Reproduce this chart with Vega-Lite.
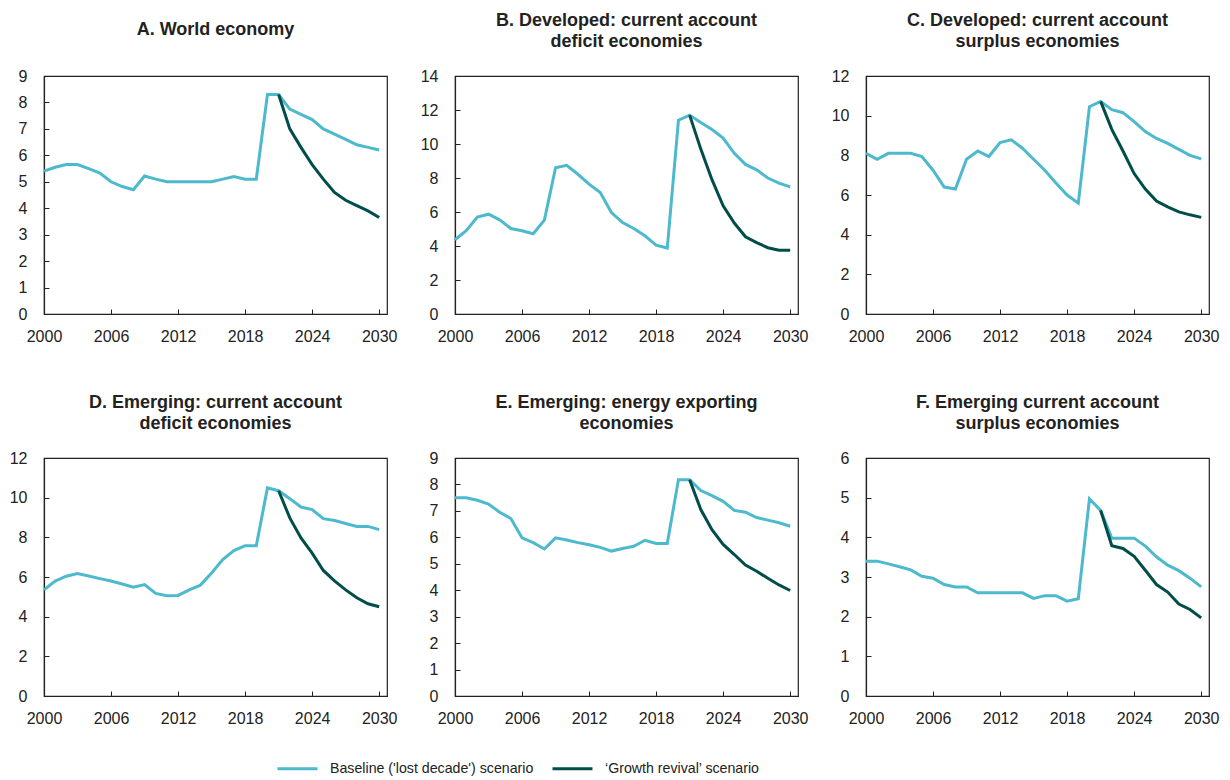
{
  "$schema": "https://vega.github.io/schema/vega-lite/v6.json",
  "background": "white",
  "padding": {"left": 8, "top": 11, "right": 5, "bottom": 5},
  "config": {
    "font": "Liberation Sans",
    "view": {"stroke": "#222", "strokeWidth": 1.2},
    "axis": {
      "grid": false,
      "domainColor": "#222",
      "domainWidth": 1.2,
      "tickColor": "#222",
      "tickSize": -5,
      "labelFont": "Liberation Sans",
      "labelFontSize": 16,
      "labelColor": "#222",
      "title": null
    },
    "axisX": {"labelPadding": 19, "labelFlush": false},
    "axisY": {"labelPadding": 22},
    "title": {
      "font": "Liberation Sans",
      "fontSize": 18,
      "fontWeight": "bold",
      "color": "#222",
      "lineHeight": 21,
      "baseline": "alphabetic",
      "anchor": "middle"
    },
    "legend": {
      "orient": "none",
      "legendX": 232,
      "legendY": 671,
      "direction": "horizontal",
      "title": null,
      "symbolType": "stroke",
      "symbolSize": 1600,
      "symbolStrokeWidth": 3,
      "labelFont": "Liberation Sans",
      "labelFontSize": 14.2,
      "labelColor": "#222",
      "labelOffset": 11,
      "columnPadding": 12,
      "labelLimit": 400
    }
  },
  "data": {
    "values": [
      {"p": "A", "year": 2000, "base": 5.4}, {"p": "A", "year": 2001, "base": 5.55}, {"p": "A", "year": 2002, "base": 5.65}, {"p": "A", "year": 2003, "base": 5.65},
      {"p": "A", "year": 2004, "base": 5.5}, {"p": "A", "year": 2005, "base": 5.33}, {"p": "A", "year": 2006, "base": 5.0}, {"p": "A", "year": 2007, "base": 4.82},
      {"p": "A", "year": 2008, "base": 4.7}, {"p": "A", "year": 2009, "base": 5.22}, {"p": "A", "year": 2010, "base": 5.1}, {"p": "A", "year": 2011, "base": 5.0},
      {"p": "A", "year": 2012, "base": 5.0}, {"p": "A", "year": 2013, "base": 5.0}, {"p": "A", "year": 2014, "base": 5.0}, {"p": "A", "year": 2015, "base": 5.0},
      {"p": "A", "year": 2016, "base": 5.1}, {"p": "A", "year": 2017, "base": 5.2}, {"p": "A", "year": 2018, "base": 5.1}, {"p": "A", "year": 2019, "base": 5.1},
      {"p": "A", "year": 2020, "base": 8.3}, {"p": "A", "year": 2021, "base": 8.3, "rev": 8.3}, {"p": "A", "year": 2022, "base": 7.75, "rev": 7.0},
      {"p": "A", "year": 2023, "base": 7.55, "rev": 6.3}, {"p": "A", "year": 2024, "base": 7.35, "rev": 5.65}, {"p": "A", "year": 2025, "base": 7.0, "rev": 5.1},
      {"p": "A", "year": 2026, "base": 6.8, "rev": 4.6}, {"p": "A", "year": 2027, "base": 6.6, "rev": 4.3}, {"p": "A", "year": 2028, "base": 6.4, "rev": 4.1},
      {"p": "A", "year": 2029, "base": 6.3, "rev": 3.9}, {"p": "A", "year": 2030, "base": 6.2, "rev": 3.65},

      {"p": "B", "year": 2000, "base": 4.37}, {"p": "B", "year": 2001, "base": 4.9}, {"p": "B", "year": 2002, "base": 5.7}, {"p": "B", "year": 2003, "base": 5.87},
      {"p": "B", "year": 2004, "base": 5.54}, {"p": "B", "year": 2005, "base": 5.03}, {"p": "B", "year": 2006, "base": 4.9}, {"p": "B", "year": 2007, "base": 4.72},
      {"p": "B", "year": 2008, "base": 5.52}, {"p": "B", "year": 2009, "base": 8.6}, {"p": "B", "year": 2010, "base": 8.75}, {"p": "B", "year": 2011, "base": 8.22},
      {"p": "B", "year": 2012, "base": 7.64}, {"p": "B", "year": 2013, "base": 7.15}, {"p": "B", "year": 2014, "base": 5.97}, {"p": "B", "year": 2015, "base": 5.38},
      {"p": "B", "year": 2016, "base": 5.03}, {"p": "B", "year": 2017, "base": 4.6}, {"p": "B", "year": 2018, "base": 4.05}, {"p": "B", "year": 2019, "base": 3.88},
      {"p": "B", "year": 2020, "base": 11.4}, {"p": "B", "year": 2021, "base": 11.7, "rev": 11.7}, {"p": "B", "year": 2022, "base": 11.26, "rev": 9.7},
      {"p": "B", "year": 2023, "base": 10.85, "rev": 7.9}, {"p": "B", "year": 2024, "base": 10.35, "rev": 6.36}, {"p": "B", "year": 2025, "base": 9.45, "rev": 5.35},
      {"p": "B", "year": 2026, "base": 8.8, "rev": 4.54}, {"p": "B", "year": 2027, "base": 8.48, "rev": 4.2}, {"p": "B", "year": 2028, "base": 8.0, "rev": 3.9},
      {"p": "B", "year": 2029, "base": 7.7, "rev": 3.75}, {"p": "B", "year": 2030, "base": 7.48, "rev": 3.75},

      {"p": "C", "year": 2000, "base": 8.1}, {"p": "C", "year": 2001, "base": 7.8}, {"p": "C", "year": 2002, "base": 8.1}, {"p": "C", "year": 2003, "base": 8.1},
      {"p": "C", "year": 2004, "base": 8.1}, {"p": "C", "year": 2005, "base": 7.94}, {"p": "C", "year": 2006, "base": 7.25}, {"p": "C", "year": 2007, "base": 6.4},
      {"p": "C", "year": 2008, "base": 6.3}, {"p": "C", "year": 2009, "base": 7.8}, {"p": "C", "year": 2010, "base": 8.22}, {"p": "C", "year": 2011, "base": 7.94},
      {"p": "C", "year": 2012, "base": 8.64}, {"p": "C", "year": 2013, "base": 8.78}, {"p": "C", "year": 2014, "base": 8.36}, {"p": "C", "year": 2015, "base": 7.8},
      {"p": "C", "year": 2016, "base": 7.25}, {"p": "C", "year": 2017, "base": 6.6}, {"p": "C", "year": 2018, "base": 6.0}, {"p": "C", "year": 2019, "base": 5.59},
      {"p": "C", "year": 2020, "base": 10.45}, {"p": "C", "year": 2021, "base": 10.72, "rev": 10.72}, {"p": "C", "year": 2022, "base": 10.3, "rev": 9.31},
      {"p": "C", "year": 2023, "base": 10.15, "rev": 8.22}, {"p": "C", "year": 2024, "base": 9.7, "rev": 7.08}, {"p": "C", "year": 2025, "base": 9.2, "rev": 6.3},
      {"p": "C", "year": 2026, "base": 8.85, "rev": 5.7}, {"p": "C", "year": 2027, "base": 8.6, "rev": 5.4}, {"p": "C", "year": 2028, "base": 8.3, "rev": 5.15},
      {"p": "C", "year": 2029, "base": 8.0, "rev": 5.0}, {"p": "C", "year": 2030, "base": 7.82, "rev": 4.87},

      {"p": "D", "year": 2000, "base": 5.35}, {"p": "D", "year": 2001, "base": 5.79}, {"p": "D", "year": 2002, "base": 6.04}, {"p": "D", "year": 2003, "base": 6.17},
      {"p": "D", "year": 2004, "base": 6.05}, {"p": "D", "year": 2005, "base": 5.92}, {"p": "D", "year": 2006, "base": 5.8}, {"p": "D", "year": 2007, "base": 5.65},
      {"p": "D", "year": 2008, "base": 5.49}, {"p": "D", "year": 2009, "base": 5.62}, {"p": "D", "year": 2010, "base": 5.17}, {"p": "D", "year": 2011, "base": 5.05},
      {"p": "D", "year": 2012, "base": 5.07}, {"p": "D", "year": 2013, "base": 5.35}, {"p": "D", "year": 2014, "base": 5.59}, {"p": "D", "year": 2015, "base": 6.2},
      {"p": "D", "year": 2016, "base": 6.88}, {"p": "D", "year": 2017, "base": 7.33}, {"p": "D", "year": 2018, "base": 7.58}, {"p": "D", "year": 2019, "base": 7.58},
      {"p": "D", "year": 2020, "base": 10.49}, {"p": "D", "year": 2021, "base": 10.35, "rev": 10.35}, {"p": "D", "year": 2022, "base": 9.95, "rev": 8.98},
      {"p": "D", "year": 2023, "base": 9.53, "rev": 7.97}, {"p": "D", "year": 2024, "base": 9.4, "rev": 7.2}, {"p": "D", "year": 2025, "base": 8.94, "rev": 6.33},
      {"p": "D", "year": 2026, "base": 8.85, "rev": 5.8}, {"p": "D", "year": 2027, "base": 8.7, "rev": 5.35}, {"p": "D", "year": 2028, "base": 8.55, "rev": 4.95},
      {"p": "D", "year": 2029, "base": 8.55, "rev": 4.65}, {"p": "D", "year": 2030, "base": 8.39, "rev": 4.5},

      {"p": "E", "year": 2000, "base": 7.5}, {"p": "E", "year": 2001, "base": 7.5}, {"p": "E", "year": 2002, "base": 7.4}, {"p": "E", "year": 2003, "base": 7.26},
      {"p": "E", "year": 2004, "base": 6.95}, {"p": "E", "year": 2005, "base": 6.71}, {"p": "E", "year": 2006, "base": 5.98}, {"p": "E", "year": 2007, "base": 5.8},
      {"p": "E", "year": 2008, "base": 5.56}, {"p": "E", "year": 2009, "base": 5.98}, {"p": "E", "year": 2010, "base": 5.9}, {"p": "E", "year": 2011, "base": 5.8},
      {"p": "E", "year": 2012, "base": 5.72}, {"p": "E", "year": 2013, "base": 5.62}, {"p": "E", "year": 2014, "base": 5.48}, {"p": "E", "year": 2015, "base": 5.58},
      {"p": "E", "year": 2016, "base": 5.66}, {"p": "E", "year": 2017, "base": 5.89}, {"p": "E", "year": 2018, "base": 5.77}, {"p": "E", "year": 2019, "base": 5.77},
      {"p": "E", "year": 2020, "base": 8.18}, {"p": "E", "year": 2021, "base": 8.18, "rev": 8.18}, {"p": "E", "year": 2022, "base": 7.77, "rev": 7.05},
      {"p": "E", "year": 2023, "base": 7.58, "rev": 6.29}, {"p": "E", "year": 2024, "base": 7.36, "rev": 5.73}, {"p": "E", "year": 2025, "base": 7.02, "rev": 5.35},
      {"p": "E", "year": 2026, "base": 6.95, "rev": 4.95}, {"p": "E", "year": 2027, "base": 6.75, "rev": 4.72}, {"p": "E", "year": 2028, "base": 6.65, "rev": 4.45},
      {"p": "E", "year": 2029, "base": 6.55, "rev": 4.2}, {"p": "E", "year": 2030, "base": 6.42, "rev": 3.99},

      {"p": "F", "year": 2000, "base": 3.4}, {"p": "F", "year": 2001, "base": 3.4}, {"p": "F", "year": 2002, "base": 3.33}, {"p": "F", "year": 2003, "base": 3.26},
      {"p": "F", "year": 2004, "base": 3.18}, {"p": "F", "year": 2005, "base": 3.02}, {"p": "F", "year": 2006, "base": 2.97}, {"p": "F", "year": 2007, "base": 2.81},
      {"p": "F", "year": 2008, "base": 2.75}, {"p": "F", "year": 2009, "base": 2.75}, {"p": "F", "year": 2010, "base": 2.6}, {"p": "F", "year": 2011, "base": 2.6},
      {"p": "F", "year": 2012, "base": 2.6}, {"p": "F", "year": 2013, "base": 2.6}, {"p": "F", "year": 2014, "base": 2.6}, {"p": "F", "year": 2015, "base": 2.46},
      {"p": "F", "year": 2016, "base": 2.53}, {"p": "F", "year": 2017, "base": 2.53}, {"p": "F", "year": 2018, "base": 2.39}, {"p": "F", "year": 2019, "base": 2.45},
      {"p": "F", "year": 2020, "base": 4.97}, {"p": "F", "year": 2021, "base": 4.68, "rev": 4.68}, {"p": "F", "year": 2022, "base": 3.98, "rev": 3.79},
      {"p": "F", "year": 2023, "base": 3.98, "rev": 3.72}, {"p": "F", "year": 2024, "base": 3.98, "rev": 3.52}, {"p": "F", "year": 2025, "base": 3.78, "rev": 3.17},
      {"p": "F", "year": 2026, "base": 3.51, "rev": 2.81}, {"p": "F", "year": 2027, "base": 3.3, "rev": 2.62}, {"p": "F", "year": 2028, "base": 3.16, "rev": 2.32},
      {"p": "F", "year": 2029, "base": 2.97, "rev": 2.18}, {"p": "F", "year": 2030, "base": 2.75, "rev": 1.97}
    ]
  },
  "columns": 3,
  "bounds": "flush",
  "spacing": {"column": 68, "row": 144},
  "concat": [
    {
      "title": {"text": "A. World economy", "offset": 29},
      "width": 343, "height": 238,
      "transform": [{"filter": "datum.p === 'A'"}, {"fold": ["base", "rev"], "as": ["scenario", "value"]}],
      "mark": {"type": "line", "strokeWidth": 3},
      "encoding": {
        "x": {"field": "year", "type": "quantitative", "scale": {"domain": [2000, 2030.7]}, "axis": {"values": [2000, 2006, 2012, 2018, 2024, 2030], "format": "d"}},
        "y": {"field": "value", "type": "quantitative", "scale": {"domain": [0, 9]}, "axis": {"values": [0, 1, 2, 3, 4, 5, 6, 7, 8, 9]}},
        "color": {"field": "scenario", "type": "nominal", "scale": {"domain": ["base", "rev"], "range": ["#4db9cc", "#004d4a"]},
          "legend": {"labelExpr": "datum.label === 'base' ? \"Baseline ('lost decade') scenario\" : '‘Growth revival’ scenario'"}}
      }
    },
    {
      "title": {"text": ["B. Developed: current account", "deficit economies"], "offset": 17},
      "width": 343, "height": 238,
      "transform": [{"filter": "datum.p === 'B'"}, {"fold": ["base", "rev"], "as": ["scenario", "value"]}],
      "mark": {"type": "line", "strokeWidth": 3},
      "encoding": {
        "x": {"field": "year", "type": "quantitative", "scale": {"domain": [2000, 2030.7]}, "axis": {"values": [2000, 2006, 2012, 2018, 2024, 2030], "format": "d"}},
        "y": {"field": "value", "type": "quantitative", "scale": {"domain": [0, 14]}, "axis": {"values": [0, 2, 4, 6, 8, 10, 12, 14]}},
        "color": {"field": "scenario", "type": "nominal"}
      }
    },
    {
      "title": {"text": ["C. Developed: current account", "surplus economies"], "offset": 17},
      "width": 343, "height": 238,
      "transform": [{"filter": "datum.p === 'C'"}, {"fold": ["base", "rev"], "as": ["scenario", "value"]}],
      "mark": {"type": "line", "strokeWidth": 3},
      "encoding": {
        "x": {"field": "year", "type": "quantitative", "scale": {"domain": [2000, 2030.7]}, "axis": {"values": [2000, 2006, 2012, 2018, 2024, 2030], "format": "d"}},
        "y": {"field": "value", "type": "quantitative", "scale": {"domain": [0, 12]}, "axis": {"values": [0, 2, 4, 6, 8, 10, 12]}},
        "color": {"field": "scenario", "type": "nominal"}
      }
    },
    {
      "title": {"text": ["D. Emerging: current account", "deficit economies"], "offset": 17},
      "width": 343, "height": 238,
      "transform": [{"filter": "datum.p === 'D'"}, {"fold": ["base", "rev"], "as": ["scenario", "value"]}],
      "mark": {"type": "line", "strokeWidth": 3},
      "encoding": {
        "x": {"field": "year", "type": "quantitative", "scale": {"domain": [2000, 2030.7]}, "axis": {"values": [2000, 2006, 2012, 2018, 2024, 2030], "format": "d"}},
        "y": {"field": "value", "type": "quantitative", "scale": {"domain": [0, 12]}, "axis": {"values": [0, 2, 4, 6, 8, 10, 12]}},
        "color": {"field": "scenario", "type": "nominal"}
      }
    },
    {
      "title": {"text": ["E. Emerging: energy exporting", "economies"], "offset": 17},
      "width": 343, "height": 238,
      "transform": [{"filter": "datum.p === 'E'"}, {"fold": ["base", "rev"], "as": ["scenario", "value"]}],
      "mark": {"type": "line", "strokeWidth": 3},
      "encoding": {
        "x": {"field": "year", "type": "quantitative", "scale": {"domain": [2000, 2030.7]}, "axis": {"values": [2000, 2006, 2012, 2018, 2024, 2030], "format": "d"}},
        "y": {"field": "value", "type": "quantitative", "scale": {"domain": [0, 9]}, "axis": {"values": [0, 1, 2, 3, 4, 5, 6, 7, 8, 9]}},
        "color": {"field": "scenario", "type": "nominal"}
      }
    },
    {
      "title": {"text": ["F. Emerging current account", "surplus economies"], "offset": 17},
      "width": 343, "height": 238,
      "transform": [{"filter": "datum.p === 'F'"}, {"fold": ["base", "rev"], "as": ["scenario", "value"]}],
      "mark": {"type": "line", "strokeWidth": 3},
      "encoding": {
        "x": {"field": "year", "type": "quantitative", "scale": {"domain": [2000, 2030.7]}, "axis": {"values": [2000, 2006, 2012, 2018, 2024, 2030], "format": "d"}},
        "y": {"field": "value", "type": "quantitative", "scale": {"domain": [0, 6]}, "axis": {"values": [0, 1, 2, 3, 4, 5, 6]}},
        "color": {"field": "scenario", "type": "nominal"}
      }
    }
  ]
}
